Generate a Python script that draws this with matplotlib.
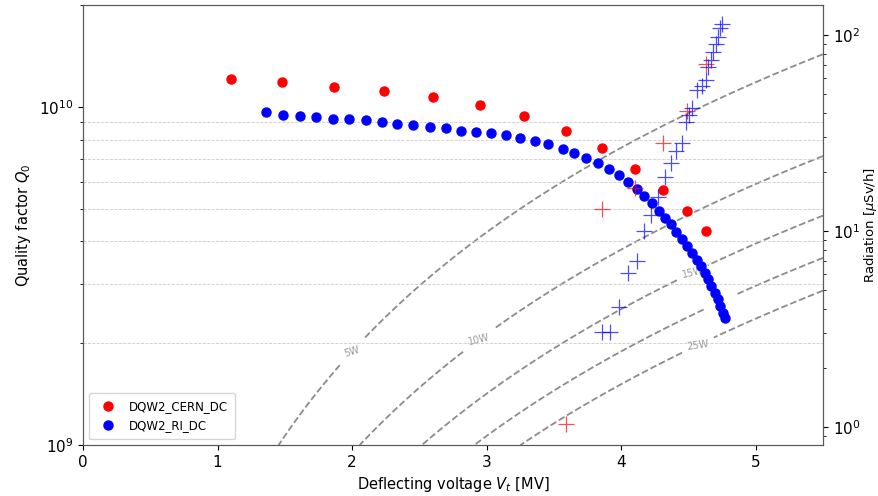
import numpy as np
import matplotlib
matplotlib.use("Agg")
import matplotlib.pyplot as plt

# DQW2 CERN, tension déflectrice [MV], Q0, radiation [uSv/h]
cern_v = [1.100, 1.482, 1.866, 2.239, 2.602, 2.954, 3.281, 3.593, 3.861, 4.104, 4.312, 4.491, 4.634]
cern_q0 = [1.208e10, 1.18e10, 1.146e10, 1.117e10, 1.07e10, 1.012e10, 9.42e9, 8.49e9,
           7.53e9, 6.55e9, 5.68e9, 4.91e9, 4.30e9]
cern_rad = [np.nan, np.nan, np.nan, np.nan, np.nan, np.nan, np.nan,
            1.03, 12.9, 16.5, 28.0, 41.0, 71.1]

# DQW2 RI
ri_v = [1.363, 1.487, 1.610, 1.735, 1.856, 1.980, 2.101, 2.223, 2.337, 2.454, 2.577, 2.696,
        2.810, 2.922, 3.033, 3.147, 3.251, 3.363, 3.457, 3.564, 3.653, 3.738, 3.828, 3.908,
        3.985, 4.052, 4.119, 4.173, 4.228, 4.280, 4.329, 4.372, 4.411, 4.454, 4.491, 4.528,
        4.560, 4.590, 4.620, 4.647, 4.671, 4.694, 4.718, 4.738, 4.758, 4.768]
ri_q0 = [9.65e9, 9.47e9, 9.36e9, 9.30e9, 9.23e9, 9.20e9, 9.13e9, 9.01e9, 8.91e9, 8.85e9,
         8.74e9, 8.65e9, 8.49e9, 8.45e9, 8.36e9, 8.25e9, 8.06e9, 7.93e9, 7.74e9, 7.51e9,
         7.31e9, 7.04e9, 6.81e9, 6.55e9, 6.29e9, 6.01e9, 5.73e9, 5.46e9, 5.18e9, 4.93e9,
         4.70e9, 4.49e9, 4.27e9, 4.06e9, 3.87e9, 3.70e9, 3.53e9, 3.38e9, 3.23e9, 3.09e9,
         2.95e9, 2.82e9, 2.70e9, 2.58e9, 2.46e9, 2.38e9]
ri_rad_v = [3.854, 3.915, 3.982, 4.050, 4.115, 4.168, 4.218, 4.274, 4.326, 4.367, 4.411,
            4.454, 4.482, 4.504, 4.530, 4.567, 4.597, 4.627, 4.642, 4.665, 4.679, 4.702,
            4.716, 4.738, 4.753]
ri_rad = [3.05, 3.05, 4.07, 6.07, 7.04, 10.0, 12.0, 14.9, 18.9, 22.1, 25.6, 28.0, 35.9,
          39.0, 42.4, 52.4, 54.9, 58.9, 68.6, 74.6, 81.9, 89.9, 97.7, 108.6, 113.8]

# Courbes de puissance dissipée
R_over_Q = 423.0  # Ohm
power_levels = [5, 10, 15, 20, 25]
label_pos = [(2.00, 1.9e9), (2.94, 2.04e9), (4.53, 3.23e9), (4.73, 2.63e9), (4.57, 1.98e9)]

fig = plt.figure(figsize=(8.79, 4.96), dpi=100)
ax = fig.add_axes([0.0944, 0.1028, 0.8419, 0.8872])

# Grille de puissance
vv = np.linspace(0.01, 5.5, 400)
qq = np.logspace(9, 10.31, 400)
V, Q = np.meshgrid(vv, qq)
P = (V * 1e6) ** 2 / (R_over_Q * Q)
cs = ax.contour(V, Q, P, levels=power_levels, colors="0.55", linestyles="--", linewidths=1.3, zorder=1)
labels = ax.clabel(cs, fmt="%dW", fontsize=7, colors="0.6", inline=True, manual=label_pos)
for t in labels:
    t.set_zorder(2)
    if t.get_text() == "20W":  # caché derrière les points bleus
        t.set_visible(False)

ax.plot(cern_v, cern_q0, "o", color="red", ms=6.5, label="DQW2_CERN_DC", zorder=3)
ax.plot(ri_v, ri_q0, "o", color="blue", ms=6.5, label="DQW2_RI_DC", zorder=3)

ax.set_yscale("log")
ax.set_xlim(0, 5.5)
ax.set_ylim(1e9, 2.0e10)
ax.set_xlabel("Deflecting voltage $V_t$ [MV]", fontsize=10.5)
ax.set_ylabel("Quality factor $Q_0$", fontsize=10.5)
ax.tick_params(labelsize=11)
ax.grid(True, which="minor", axis="y", linestyle="--", linewidth=0.6, color="0.8")
ax.legend(loc="lower left", fontsize=8.5, handletextpad=0.8, borderpad=0.6)

ax2 = ax.twinx()
ax2.plot(cern_v, cern_rad, "+", color="red", ms=12, mew=0.9, alpha=0.7)
ax2.plot(ri_rad_v, ri_rad, "+", color="blue", ms=12, mew=0.9, alpha=0.7)
ax2.set_yscale("log")
ax2.set_ylim(0.806, 142)
ax2.set_ylabel("Radiation [$\\mu$Sv/h]", fontsize=9.5, labelpad=1)
ax2.tick_params(labelsize=11)

for a in (ax, ax2):
    for s in a.spines.values():
        s.set_color("0.35")

fig.savefig("out.png", dpi=100)
